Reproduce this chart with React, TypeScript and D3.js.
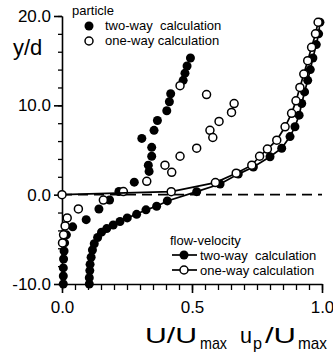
import React, { useEffect, useRef } from 'react';
import * as d3 from 'd3';

// particle, two-way (filled, no line)
const partTwoX = [0.494, 0.481, 0.473, 0.466, 0.418, 0.413, 0.403, 0.367, 0.354, 0.307, 0.345, 0.345, 0.332, 0.335, 0.278, 0.219, 0.183, 0.142, 0.093, 0.041, 0.017, 0.01, 0.008, 0.006, 0.005, 0.005, 0.005];
const partTwoY = [15.3, 14.4, 13.6, 12.8, 11.3, 10.4, 9.4, 8.3, 7.2, 6.3, 5.3, 4.3, 3.3, 2.6, 1.4, 0.35, -0.6, -1.6, -2.8, -3.6, -4.5, -5.4, -6.3, -7.2, -8.2, -9.1, -10];

// particle, one-way (open, no line)
const partOneX = [0.454, 0.556, 0.662, 0.652, 0.604, 0.569, 0.58, 0.518, 0.454, 0.396, 0.422, 0.326, 0.236, 0.159, 0.063, 0.02, 0.012, 0.006, 0.002];
const partOneY = [12.2, 11.2, 10.2, 9.2, 8.2, 7.2, 6.4, 5.2, 4.3, 3.3, 2.5, 1.5, 0.35, -0.6, -1.6, -2.6, -3.5, -4.5, -5.4];

// flow velocity, two-way (filled + line)
const flowTwoX = [0.105, 0.105, 0.107, 0.108, 0.112, 0.117, 0.124, 0.137, 0.152, 0.172, 0.197, 0.223, 0.251, 0.287, 0.323, 0.364, 0.405, 0.518, 0.608, 0.678, 0.736, 0.8, 0.845, 0.877, 0.896, 0.912, 0.922, 0.933, 0.945, 0.955, 0.965, 0.978, 0.987, 0.992];
const flowTwoY = [-10, -9.3, -8.5, -7.8, -7.0, -6.2, -5.5, -4.8, -4.2, -3.8, -3.4, -3.0, -2.6, -2.2, -1.7, -1.3, -0.7, 0.34, 1.2, 2.3, 3.1, 4.25, 5.2, 6.5, 7.6, 8.9, 10.2, 11.5, 12.8, 14.0, 15.3, 16.8, 18.0, 19.3];

// flow velocity, one-way (open + line)
const flowOneX = [0, 0.42, 0.59, 0.67, 0.73, 0.76, 0.79, 0.826, 0.858, 0.883, 0.9, 0.915, 0.93, 0.945, 0.96, 0.975, 0.985];
const flowOneY = [0, 0.34, 1.35, 2.4, 3.3, 4.3, 5.1, 6.1, 7.6, 9.1, 10.5, 12, 13.5, 15, 16.5, 18, 19.3];

const xMajor = [0, 0.5, 1.0];
const yMajor = [-10, 0, 10, 20];

const FONT = '"Liberation Sans", Arial, sans-serif';

const zip = (xs: number[], ys: number[]): [number, number][] => xs.map((x, i) => [x, ys[i]]);
const fmt = (d: d3.NumberValue) => (+d).toFixed(1);

const App = () => {
  const svgRef = useRef<SVGSVGElement>(null);

  useEffect(() => {
    const svg = d3.select(svgRef.current);
    svg.selectAll('*').remove();

    const x = d3.scaleLinear().domain([0, 1]).range([62, 322]);
    const y = d3.scaleLinear().domain([-10, 20]).range([284, 16]);

    const xMinor = d3.range(0, 1.0001, 0.05);
    const yMinor = d3.range(-10, 20.001, 2);

    // x axis: minor ticks then major with labels
    svg.append('g')
      .attr('transform', `translate(0,${y(-10)})`)
      .call(d3.axisBottom(x).tickValues(xMinor).tickSize(6).tickFormat(() => '').tickSizeOuter(0))
      .call(g => g.selectAll('line').attr('stroke-width', 1.3));
    const xa = svg.append('g')
      .attr('transform', `translate(0,${y(-10)})`)
      .call(d3.axisBottom(x).tickValues(xMajor).tickSize(9).tickPadding(8).tickFormat(fmt).tickSizeOuter(0));
    xa.select('.domain').attr('stroke-width', 1.6);
    xa.selectAll('line').attr('stroke-width', 1.6);
    xa.selectAll('text').attr('font-family', FONT).attr('font-size', 17).attr('fill', '#000');

    // y axis
    svg.append('g')
      .attr('transform', `translate(${x(0)},0)`)
      .call(d3.axisLeft(y).tickValues(yMinor).tickSize(4).tickFormat(() => '').tickSizeOuter(0))
      .call(g => g.selectAll('line').attr('stroke-width', 1.3));
    const ya = svg.append('g')
      .attr('transform', `translate(${x(0)},0)`)
      .call(d3.axisLeft(y).tickValues(yMajor).tickSize(8).tickPadding(3).tickFormat(fmt).tickSizeOuter(0));
    ya.select('.domain').attr('stroke-width', 1.6);
    ya.selectAll('line').attr('stroke-width', 1.6);
    ya.selectAll('text').attr('font-family', FONT).attr('font-size', 17).attr('fill', '#000');

    // dashed zero line
    svg.append('line')
      .attr('x1', x(0)).attr('x2', x(1))
      .attr('y1', y(0)).attr('y2', y(0))
      .attr('stroke', '#000')
      .attr('stroke-width', 1.6)
      .attr('stroke-dasharray', '10,6');

    const line = d3.line<[number, number]>().x(d => x(d[0])).y(d => y(d[1]));

    const drawDots = (data: [number, number][], filled: boolean) => {
      svg.append('g')
        .selectAll('circle')
        .data(data)
        .enter().append('circle')
        .attr('cx', d => x(d[0]))
        .attr('cy', d => y(d[1]))
        .attr('r', filled ? 4.5 : 4)
        .attr('fill', filled ? '#000' : '#fff')
        .attr('stroke', '#000')
        .attr('stroke-width', filled ? 0 : 1.5);
    };

    drawDots(zip(partTwoX, partTwoY), true);
    drawDots(zip(partOneX, partOneY), false);

    svg.append('path')
      .datum(zip(flowTwoX, flowTwoY))
      .attr('fill', 'none')
      .attr('stroke', '#000')
      .attr('stroke-width', 1.7)
      .attr('d', line);
    drawDots(zip(flowTwoX, flowTwoY), true);

    svg.append('path')
      .datum(zip(flowOneX, flowOneY))
      .attr('fill', 'none')
      .attr('stroke', '#000')
      .attr('stroke-width', 1.7)
      .attr('d', line);
    drawDots(zip(flowOneX, flowOneY), false);

    // legends
    const small = 13;
    svg.append('text').attr('x', 72).attr('y', 15).text('particle')
      .attr('font-family', FONT).attr('font-size', small);
    svg.append('circle').attr('cx', 89).attr('cy', 26).attr('r', 4.5).attr('fill', '#000');
    svg.append('text').attr('x', 105).attr('y', 30).text('two-way\u00a0 calculation')
      .attr('font-family', FONT).attr('font-size', small);
    svg.append('circle').attr('cx', 89).attr('cy', 41).attr('r', 4).attr('fill', '#fff')
      .attr('stroke', '#000').attr('stroke-width', 1.5);
    svg.append('text').attr('x', 105).attr('y', 45).text('one-way calculation')
      .attr('font-family', FONT).attr('font-size', small);

    svg.append('text').attr('x', 170).attr('y', 245).text('flow-velocity')
      .attr('font-family', FONT).attr('font-size', small);
    svg.append('line').attr('x1', 172).attr('x2', 197).attr('y1', 255).attr('y2', 255)
      .attr('stroke', '#000').attr('stroke-width', 1.7);
    svg.append('circle').attr('cx', 184).attr('cy', 255).attr('r', 4.5).attr('fill', '#000');
    svg.append('text').attr('x', 200).attr('y', 259.5).text('two-way\u00a0 calculation')
      .attr('font-family', FONT).attr('font-size', small);
    svg.append('line').attr('x1', 172).attr('x2', 197).attr('y1', 270).attr('y2', 270)
      .attr('stroke', '#000').attr('stroke-width', 1.7);
    svg.append('circle').attr('cx', 184).attr('cy', 270).attr('r', 4).attr('fill', '#fff')
      .attr('stroke', '#000').attr('stroke-width', 1.5);
    svg.append('text').attr('x', 200).attr('y', 274.5).text('one-way calculation')
      .attr('font-family', FONT).attr('font-size', small);

    // axis titles
    svg.append('text').attr('x', 13).attr('y', 55).text('y/d')
      .attr('font-family', FONT).attr('font-size', 22);

    const titleParts: [string, number, number, number, number][] = [
      // text, x, baseline, size, width
      ['U/U', 145, 343, 22, 52],
      ['max', 200, 349, 17, 27],
      ['u', 240, 343, 22, 12],
      ['p', 253, 349, 17, 9],
      ['/U', 265, 343, 22, 31],
      ['max', 298, 349, 17, 29],
    ];
    titleParts.forEach(([t, tx, ty, fs, w]) => {
      svg.append('text').attr('x', tx).attr('y', ty).text(t)
        .attr('font-family', FONT).attr('font-size', fs)
        .attr('textLength', w).attr('lengthAdjust', 'spacingAndGlyphs');
    });
  }, []);

  return (
    <svg ref={svgRef} width={333} height={357}
      style={{ position: 'absolute', left: 0, top: 0, background: '#fff' }} />
  );
};

export default App;
